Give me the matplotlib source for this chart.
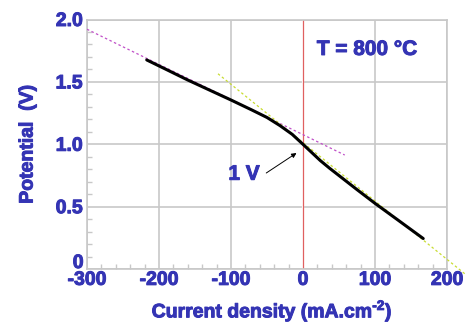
import numpy as np
import matplotlib
matplotlib.use("Agg")
import matplotlib.pyplot as plt
import matplotlib.patheffects as pe
from matplotlib.ticker import MultipleLocator, FuncFormatter

# I-V curve
current = [-217, -190, -160, -130, -100, -71, -50, -32, -15, 0, 12, 24, 37, 55, 75, 100, 135, 167]
potential = [1.676, 1.60, 1.515, 1.435, 1.355, 1.275, 1.215, 1.15, 1.08, 1.0,
             0.935, 0.87, 0.808, 0.727, 0.637, 0.527, 0.38, 0.245]

# tangent lines (endpoints)
tan_neg_x = [-300, 58]
tan_neg_y = [1.922, 0.914]
tan_pos_x = [-118, 227]
tan_pos_y = [1.565, -0.048]

blue = "#3434B4"
grey = "#c8c8c8"
thick = [pe.withStroke(linewidth=0.7, foreground=blue)]

plt.rcParams["font.family"] = ["Liberation Sans", "DejaVu Sans"]
plt.rcParams["font.weight"] = "bold"
plt.rcParams["axes.unicode_minus"] = False
plt.rcParams["mathtext.fontset"] = "custom"
plt.rcParams["mathtext.bf"] = "Liberation Sans:bold"
plt.rcParams["mathtext.rm"] = "Liberation Sans:bold"

fig = plt.figure(figsize=(4.74, 3.25), dpi=100)
ax = fig.add_axes([0.1835, 0.172, 0.7595, 0.768])

ax.set_xlim(-300, 200)
ax.set_ylim(0, 2.0)

ax.xaxis.set_major_locator(MultipleLocator(100))
ax.xaxis.set_minor_locator(MultipleLocator(20))
ax.yaxis.set_major_locator(MultipleLocator(0.5))
ax.yaxis.set_minor_locator(MultipleLocator(0.1))
# the "0" is drawn by hand below, a bit higher than the tick
ax.yaxis.set_major_formatter(FuncFormatter(lambda v, p: "" if v == 0 else f"{v:.1f}"))

ax.grid(True, which="major", color=grey, lw=1.2)
ax.set_axisbelow(True)
for s in ax.spines.values():
    s.set_color(grey)
    s.set_linewidth(1.2)

ax.tick_params(which="both", direction="in", colors=grey, labelcolor=blue,
               labelsize=14)
ax.tick_params(which="major", length=0, pad=3)
ax.tick_params(which="minor", length=3.5, width=1)
ax.tick_params(axis="x", which="major", pad=2)
fig.canvas.draw()
for lab in ax.get_xticklabels() + ax.get_yticklabels():
    lab.set_fontweight("bold")
    lab.set_path_effects(thick)

ax.annotate("0", xy=(0, 0), xycoords="axes fraction", xytext=(-2.5, 4),
            textcoords="offset points", ha="right", va="center", color=blue,
            fontsize=14, fontweight="bold", path_effects=thick)

# zero-current line
ax.axvline(0, color="white", lw=1.6, zorder=1)
ax.axvline(0, color="#e06060", lw=0.9, zorder=2)

ax.plot(tan_neg_x, tan_neg_y, color="#c050c8", lw=0.9, ls=(0, (2, 2)), zorder=3)
ax.plot(tan_pos_x, tan_pos_y, color="#c8dc30", lw=0.9, ls=(0, (2, 2)), zorder=3,
        clip_on=False)
ax.plot(current, potential, color="black", lw=2.2, zorder=4, solid_capstyle="round")

ax.text(89, 1.76, "T = 800 °C", color=blue, fontsize=15, fontweight="bold",
        ha="center", va="center", path_effects=thick)
ax.text(-60, 0.76, "1 V", color=blue, fontsize=15, fontweight="bold",
        ha="right", va="center", path_effects=thick)
ax.annotate("", xy=(-9, 0.93), xytext=(-51, 0.77),
            arrowprops=dict(arrowstyle="-|>", color="black", lw=0.7,
                            mutation_scale=7, shrinkA=0, shrinkB=0))

ax.set_xlabel("Current density (mA.cm$^{\\mathbf{\u2010}\\mathbf{2}}$)", color=blue,
              fontsize=14, fontweight="bold", path_effects=thick)
ax.xaxis.set_label_coords(0.515, -0.115)
ax.set_ylabel("Potential  (V)", color=blue, fontsize=14, fontweight="bold",
              path_effects=thick)
ax.yaxis.set_label_coords(-0.14, 0.5)

fig.savefig("out.png", dpi=100)
